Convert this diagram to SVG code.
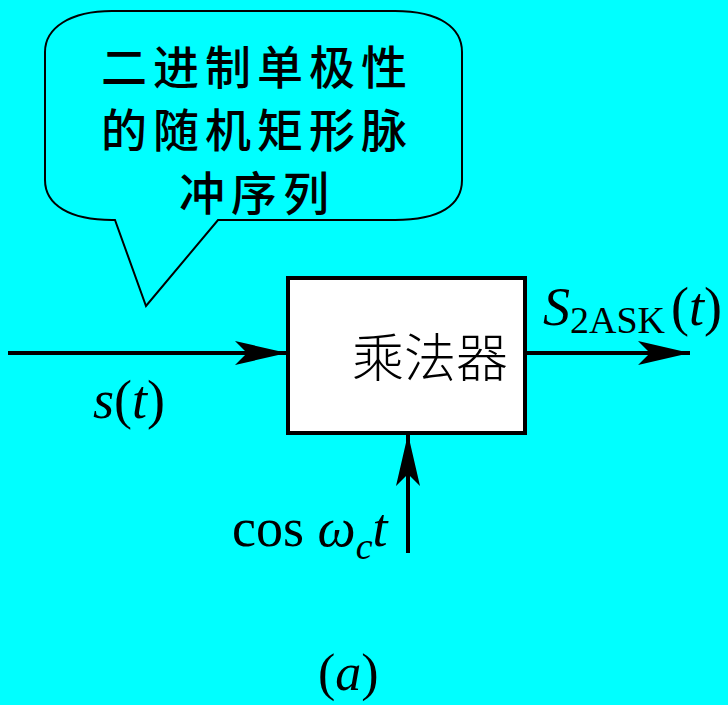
<svg xmlns="http://www.w3.org/2000/svg" width="728" height="705" viewBox="0 0 728 705">
<style>
.cjk{font-family:"Noto Sans CJK SC","Noto Sans CJK TC",sans-serif;fill:#000}
.m{font-family:"Liberation Serif","Times New Roman",serif;fill:#000}
.i{font-style:italic}
.ln{stroke:#000;stroke-width:4;fill:none}
</style>
<defs>
<marker id="ah" viewBox="0 0 52 24" refX="52" refY="12" markerWidth="52" markerHeight="24" markerUnits="userSpaceOnUse" orient="auto">
<path d="M0,0 L52,12 L0,24 L12,12 Z" fill="#000"/>
</marker>
</defs>
<rect width="728" height="705" fill="#00FFFF"/>
<g id="callout">
<path d="M115,220 L146,306 L218,220 L395,220 C440,220 462,205 462,180 L462,52 C462,28 440,11 395,11 L112,11 C70,11 45,28 45,52 L45,180 C45,205 70,220 112,220 Z" fill="#00FFFF" stroke="#000" stroke-width="2"/>
<text class="cjk" font-size="46" font-weight="500" letter-spacing="6" text-anchor="middle" x="257" y="84">二进制单极性</text>
<text class="cjk" font-size="46" font-weight="500" letter-spacing="6" text-anchor="middle" x="257" y="147">的随机矩形脉</text>
<text class="cjk" font-size="46" font-weight="500" letter-spacing="6" text-anchor="middle" x="257" y="210">冲序列</text>
</g>
<g id="multiplier">
<rect x="288" y="278" width="237" height="155" fill="#fff" stroke="#000" stroke-width="4"/>
<text class="cjk" font-size="52" x="352" y="377" font-weight="300">乘法器</text>
</g>
<g id="connectors">
<line class="ln" x1="8" y1="353" x2="287" y2="353" marker-end="url(#ah)"/>
<line class="ln" x1="525" y1="353" x2="690" y2="353" marker-end="url(#ah)"/>
<line class="ln" x1="408" y1="553" x2="408" y2="434" marker-end="url(#ah)"/>
</g>
<g id="labels">
<text class="m" font-size="54" x="93" y="418"><tspan class="i">s</tspan>(<tspan class="i">t</tspan>)</text>
<text class="m" font-size="54" x="543" y="325"><tspan class="i">S</tspan><tspan font-size="38" dy="8">2ASK</tspan><tspan dy="-8" dx="6">(</tspan><tspan class="i">t</tspan>)</text>
<text class="m" font-size="54" x="232" y="546">cos <tspan class="i">ω</tspan><tspan class="i" font-size="38" dy="13">c</tspan><tspan class="i" dy="-13">t</tspan></text>
<text class="m" font-size="52" x="318" y="690">(<tspan class="i">a</tspan>)</text>
</g>
</svg>
